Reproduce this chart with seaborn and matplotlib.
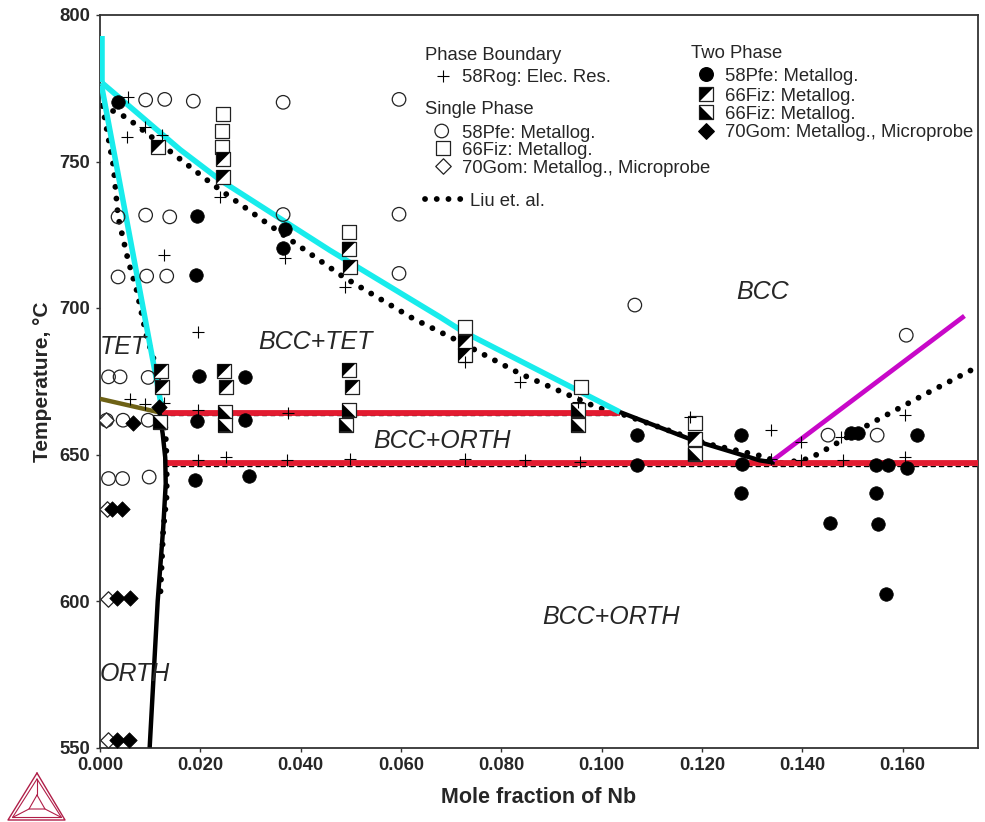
import numpy as np
import pandas as pd
import matplotlib
matplotlib.use("Agg")
import matplotlib.pyplot as plt
import seaborn as sns
from matplotlib.markers import MarkerStyle
from matplotlib.lines import Line2D

# ---------------- data ----------------
x_ticks = [0.000, 0.020, 0.040, 0.060, 0.080, 0.100, 0.120, 0.140, 0.160]
x_tick_labels = ["0.000", "0.020", "0.040", "0.060", "0.080", "0.100", "0.120", "0.140", "0.160"]
y_ticks = [550, 600, 650, 700, 750, 800]
y_tick_labels = ["550", "600", "650", "700", "750", "800"]

# 58Rog: Elec. Res. (phase boundary, +)
rog_x = [0.0056, 0.0053, 0.0090, 0.0123, 0.0128, 0.0239, 0.0369, 0.0196, 0.0060, 0.0090,
         0.0127, 0.0196, 0.0375, 0.0196, 0.0252, 0.0372, 0.0488, 0.0727, 0.0837, 0.0953,
         0.0498, 0.0727, 0.0847, 0.0956, 0.1175, 0.1338, 0.1398, 0.1398, 0.1481, 0.1477,
         0.1604, 0.1604, 0.1338]
rog_y = [772.1, 758.4, 761.9, 759.0, 718.0, 738.0, 716.9, 691.8, 669.1, 667.4,
         667.6, 665.1, 664.3, 648.0, 649.2, 648.0, 707.2, 681.6, 674.8, 667.9,
         648.6, 648.6, 648.0, 647.5, 662.8, 658.3, 654.3, 648.0, 648.0, 656.0,
         663.4, 649.2, 648.6]

# Single phase: 58Pfe (open circles)
pfe1_x = [0.0091, 0.0129, 0.0186, 0.0365, 0.0596, 0.0036, 0.0091, 0.0139, 0.0365, 0.0596,
          0.0036, 0.0093, 0.0133, 0.0596, 0.0017, 0.0040, 0.0096, 0.0013, 0.0046, 0.0096,
          0.0017, 0.0045, 0.0098, 0.1066, 0.1607, 0.1451, 0.1549]
pfe1_y = [771.0, 771.2, 770.6, 770.2, 771.2, 731.1, 731.7, 731.1, 731.9, 732.0,
          710.6, 710.9, 710.9, 711.8, 676.5, 676.5, 676.3, 661.7, 661.7, 661.7,
          641.8, 641.8, 642.3, 701.0, 690.7, 656.6, 656.6]

# Single phase: 66Fiz (open squares)
fiz1_x = [0.0246, 0.0244, 0.0244, 0.0496, 0.0728, 0.0958, 0.1185]
fiz1_y = [766.1, 760.4, 755.0, 725.8, 693.5, 673.0, 660.6]

# Single phase: 70Gom (open diamonds)
gom1_x = [0.0012, 0.0013, 0.0015, 0.0015]
gom1_y = [661.7, 631.5, 600.8, 552.4]

# Two phase: 58Pfe (filled circles)
pfe2_x = [0.0036, 0.0193, 0.0369, 0.0365, 0.0191, 0.0197, 0.0289, 0.0193, 0.0289, 0.0189,
          0.0297, 0.1070, 0.1070, 0.1277, 0.1280, 0.1278, 0.1497, 0.1510, 0.1546, 0.1570,
          0.1609, 0.1629, 0.1547, 0.1455, 0.1550, 0.1566]
pfe2_y = [770.4, 731.4, 726.8, 720.5, 711.2, 676.7, 676.5, 661.4, 661.9, 641.2,
          642.7, 656.8, 646.3, 656.8, 646.7, 637.0, 657.3, 657.3, 646.3, 646.3,
          645.5, 656.6, 637.0, 626.7, 626.2, 602.3]

# Two phase: 66Fiz (half squares, black upper-left)
fiz2a_x = [0.0116, 0.0246, 0.0246, 0.0496, 0.0498, 0.0727, 0.0727, 0.0122, 0.0124, 0.0248,
           0.0252, 0.0496, 0.0503, 0.1185]
fiz2a_y = [755.0, 750.8, 744.8, 720.3, 714.0, 688.3, 684.0, 678.5, 672.9, 678.5,
           672.9, 678.8, 673.0, 655.4]

# Two phase: 66Fiz (half squares, black lower-left)
fiz2b_x = [0.0249, 0.0249, 0.0120, 0.0496, 0.0491, 0.0953, 0.0953, 0.1185]
fiz2b_y = [664.5, 660.0, 661.0, 665.1, 660.0, 665.1, 660.0, 650.1]

# Two phase: 70Gom (filled diamonds)
gom2_x = [0.0118, 0.0066, 0.0023, 0.0043, 0.0033, 0.0060, 0.0033, 0.0058]
gom2_y = [666.2, 660.6, 631.5, 631.5, 601.0, 601.0, 552.4, 552.4]

# Calculated phase boundaries
cyan_top_x = [0.0003, 0.0003]
cyan_top_y = [793.0, 777.0]
cyan_upper_x = [0.0003, 0.0160, 0.0240, 0.0458, 0.0677, 0.0723, 0.1036]
cyan_upper_y = [777.0, 754.0, 743.6, 719.7, 697.0, 692.0, 664.5]
cyan_left_x = [0.0003, 0.0123]
cyan_left_y = [776.0, 666.0]
olive_x = [0.0000, 0.0115]
olive_y = [669.0, 664.5]
red_upper_x = [0.0123, 0.1036]
red_upper_y = [664.2, 664.2]
red_lower_x = [0.0128, 0.1750]
red_lower_y = [647.0, 647.0]
black_orth_x = [0.0118, 0.0125, 0.0130, 0.0131, 0.0126, 0.0115, 0.0099]
black_orth_y = [665.0, 657.0, 649.0, 640.0, 625.0, 600.0, 550.0]
black_bcc_x = [0.1036, 0.1180, 0.1315, 0.1345]
black_bcc_y = [664.5, 655.0, 648.0, 647.2]
magenta_x = [0.1341, 0.1723]
magenta_y = [648.0, 697.3]

# Liu et al. (dotted)
liu_upper_x = [0.0005, 0.0053, 0.0226, 0.0365, 0.0485, 0.0624, 0.0711, 0.0837, 0.0989,
               0.1040, 0.1209, 0.1318, 0.1360]
liu_upper_y = [769.0, 765.0, 742.0, 725.0, 710.6, 696.4, 689.0, 677.6, 666.2,
               663.8, 653.7, 649.5, 647.0]
liu_right_x = [0.1360, 0.1414, 0.1454, 0.1534, 0.1647, 0.1750]
liu_right_y = [647.0, 648.6, 652.4, 660.4, 670.8, 680.0]
liu_left_x = [0.0005, 0.0027, 0.0036, 0.0056, 0.0073, 0.0093, 0.0110, 0.0122, 0.0130,
              0.0133, 0.0133, 0.0126, 0.0120]
liu_left_y = [769.0, 748.2, 731.1, 716.3, 706.1, 690.1, 681.0, 670.0, 660.0,
              648.0, 636.0, 624.0, 601.0]
liu_dash_upper_x = [0.0123, 0.1036]
liu_dash_upper_y = [663.6, 663.6]
liu_dash_lower_x = [0.0128, 0.1750]
liu_dash_lower_y = [646.2, 646.2]

region_labels = ["TET", "BCC+TET", "BCC+ORTH", "BCC", "BCC+ORTH", "ORTH"]
region_x = [0.0, 0.0315, 0.0544, 0.1321, 0.1019, 0.0]
region_y = [684.2, 685.9, 652.3, 703.0, 592.0, 572.6]
region_ha = ["left", "left", "left", "center", "center", "left"]

# ---------------- style ----------------
sns.set_style("ticks")
plt.rcParams['font.family'] = ['Liberation Sans', 'DejaVu Sans']

W, H = 985, 822
fig = plt.figure(figsize=(W / 100, H / 100), dpi=100)
AX_L, AX_R, AX_T, AX_B = 100, 978, 15, 747.5
ax = fig.add_axes([AX_L / W, 1 - AX_B / H, (AX_R - AX_L) / W, (AX_B - AX_T) / H])


def fx(px):
    return (px - AX_L) / (AX_R - AX_L)


def fy(py):
    return (AX_B - py) / (AX_B - AX_T)


CYAN = "#18ECEC"
RED = "#E21B30"
MAGENTA = "#C808C8"
OLIVE = "#6E6216"
DOT_LW = 4.2
DOT = (0, (0.01, 2.0))


def draw_line(x, y, color, lw, z, ls="-"):
    sns.lineplot(x=x, y=y, sort=False, estimator=None, color=color, linewidth=lw,
                 linestyle=ls, zorder=z, ax=ax, solid_capstyle="butt",
                 dash_capstyle="round", legend=False)


# thin dashed lines under red
draw_line(liu_dash_upper_x, liu_dash_upper_y, "black", 1.0, 2, (0, (3, 3)))
draw_line(liu_dash_lower_x, liu_dash_lower_y, "black", 1.0, 2, (0, (3, 3)))
# Liu dotted
draw_line(liu_upper_x, liu_upper_y, "black", DOT_LW, 2.5, DOT)
draw_line(liu_right_x, liu_right_y, "black", DOT_LW, 2.5, DOT)
draw_line(liu_left_x, liu_left_y, "black", DOT_LW, 2.5, DOT)
# calculated lines
draw_line(red_upper_x, red_upper_y, RED, 4.2, 3)
draw_line(red_lower_x, red_lower_y, RED, 4.2, 3)
draw_line(cyan_top_x, cyan_top_y, CYAN, 4.0, 3.2)
draw_line(cyan_upper_x, cyan_upper_y, CYAN, 4.0, 3.2)
draw_line(cyan_left_x, cyan_left_y, CYAN, 4.0, 3.2)
draw_line(olive_x, olive_y, OLIVE, 3.2, 3.1)
draw_line(black_orth_x, black_orth_y, "black", 3.2, 3.3)
draw_line(black_bcc_x, black_bcc_y, "black", 3.2, 3.3)
draw_line(magenta_x, magenta_y, MAGENTA, 3.4, 3.3)

# markers
UL_TRI = MarkerStyle([(-1, 1), (1, 1), (-1, -1), (-1, 1)])
LL_TRI = MarkerStyle([(-1, 1), (-1, -1), (1, -1), (-1, 1)])

S_CIRC, S_SQ, S_DIA, S_PLUS = 95, 92, 62, 85

sns.scatterplot(x=rog_x, y=rog_y, marker="+", s=S_PLUS, color="black", linewidth=0.8,
                zorder=6, ax=ax, legend=False)
sns.scatterplot(x=pfe1_x, y=pfe1_y, marker="o", s=S_CIRC, color="black", facecolor="none",
                edgecolor="#222222", linewidth=0.9, zorder=5, ax=ax, legend=False)
sns.scatterplot(x=fiz1_x, y=fiz1_y, marker="s", s=S_SQ, color="black", facecolor="white",
                edgecolor="#222222", linewidth=0.9, zorder=5, ax=ax, legend=False)
sns.scatterplot(x=gom1_x, y=gom1_y, marker="D", s=S_DIA, color="black", facecolor="white",
                edgecolor="#222222", linewidth=0.9, zorder=5, ax=ax, legend=False)
sns.scatterplot(x=pfe2_x, y=pfe2_y, marker="o", s=S_CIRC, color="black", edgecolor="black",
                linewidth=0.5, zorder=5, ax=ax, legend=False)
for hx, hy, tri in ((fiz2a_x, fiz2a_y, UL_TRI), (fiz2b_x, fiz2b_y, LL_TRI)):
    sns.scatterplot(x=hx, y=hy, marker="s", s=S_SQ, color="black", facecolor="white",
                    edgecolor="#222222", linewidth=0.9, zorder=5, ax=ax, legend=False)
    sns.scatterplot(x=hx, y=hy, marker=tri, s=S_SQ, color="black", edgecolor="none",
                    linewidth=0, zorder=5.5, ax=ax, legend=False)
sns.scatterplot(x=gom2_x, y=gom2_y, marker="D", s=S_DIA, color="black", edgecolor="black",
                linewidth=0.5, zorder=5, ax=ax, legend=False)

# region labels
for lab, x, y, ha in zip(region_labels, region_x, region_y, region_ha):
    ax.text(x, y, lab, fontsize=18, style="italic", ha=ha, va="baseline", zorder=7)

# ---------------- axes ----------------
ax.set_xlim(0, 0.175)
ax.set_ylim(550, 800)
ax.set_xticks(x_ticks)
ax.set_xticklabels(x_tick_labels)
ax.set_yticks(y_ticks)
ax.set_yticklabels(y_tick_labels)
ax.tick_params(axis="both", direction="out", length=3, width=1, labelsize=13.3, pad=4,
               color="#333333")
for lbl in ax.get_xticklabels() + ax.get_yticklabels():
    lbl.set_fontweight("bold")
ax.set_xlabel("Mole fraction of Nb", fontsize=15.5, fontweight="bold", labelpad=9)
ax.set_ylabel("Temperature, \u00b0C", fontsize=15, fontweight="bold", labelpad=5)
for sp in ax.spines.values():
    sp.set_visible(True)
    sp.set_color("#333333")
    sp.set_linewidth(1.3)
ax.grid(False)

# ---------------- legend (manual) ----------------
LFS = 13.3
CAP = 6.6  # half cap height, px


def ltext(px, py, s):
    ax.text(fx(px), fy(py + CAP), s, transform=ax.transAxes, fontsize=LFS,
            ha="left", va="baseline", zorder=8)


def lmark(px, py, **kw):
    ax.scatter([fx(px)], [fy(py)], transform=ax.transAxes, clip_on=False, zorder=8, **kw)


ltext(425, 53.3, "Phase Boundary")
lmark(443.3, 75.7, marker="+", s=S_PLUS, color="black", linewidths=0.8)
ltext(461.7, 75.7, "58Rog: Elec. Res.")
ltext(425, 107.7, "Single Phase")
lmark(441.7, 131, marker="o", s=S_CIRC, facecolors="none", edgecolors="#222222", linewidths=0.9)
ltext(461.7, 131, "58Pfe: Metallog.")
lmark(442.7, 148.3, marker="s", s=S_SQ, facecolors="white", edgecolors="#222222", linewidths=0.9)
ltext(461.7, 148.3, "66Fiz: Metallog.")
lmark(443.3, 166, marker="D", s=S_DIA, facecolors="white", edgecolors="#222222", linewidths=0.9)
ltext(461.7, 166, "70Gom: Metallog., Microprobe")
ax.add_line(Line2D([fx(425), fx(460.5)], [fy(199), fy(199)], transform=ax.transAxes,
                   color="black", linewidth=DOT_LW, linestyle=DOT, dash_capstyle="round",
                   clip_on=False, zorder=8))
ltext(470, 199, "Liu et. al.")

ltext(691, 51.7, "Two Phase")
lmark(706, 74.3, marker="o", s=S_CIRC, color="black")
ltext(725, 74.3, "58Pfe: Metallog.")
lmark(706, 94.3, marker="s", s=S_SQ, facecolors="white", edgecolors="#222222", linewidths=0.9)
lmark(706, 94.3, marker=UL_TRI, s=S_SQ, color="black", linewidths=0)
ltext(725, 94.3, "66Fiz: Metallog.")
lmark(706, 112.3, marker="s", s=S_SQ, facecolors="white", edgecolors="#222222", linewidths=0.9)
lmark(706, 112.3, marker=LL_TRI, s=S_SQ, color="black", linewidths=0)
ltext(725, 112.3, "66Fiz: Metallog.")
lmark(706, 130.7, marker="D", s=S_DIA, color="black")
ltext(725, 130.7, "70Gom: Metallog., Microprobe")

# ---------------- logo ----------------
LOGO = "#B01E48"


def fig_line(pts, lw=1.0):
    xs = [p[0] / W for p in pts]
    ys = [1 - p[1] / H for p in pts]
    fig.add_artist(Line2D(xs, ys, color=LOGO, linewidth=lw, transform=fig.transFigure))


A, B, C = (37, 773), (8, 820), (65, 820)
A2, B2, C2 = (37, 779), (12.5, 817.5), (61.5, 817.5)
I1, I2, I3 = (37, 795), (29, 809), (45, 809)
fig_line([A, B, C, A])
fig_line([A2, B2, C2, A2], lw=0.8)
fig_line([I1, I2, I3, I1], lw=0.8)
fig_line([A2, I1], lw=0.8)
fig_line([B2, I2], lw=0.8)
fig_line([C2, I3], lw=0.8)

fig.savefig("out.png", dpi=100)
